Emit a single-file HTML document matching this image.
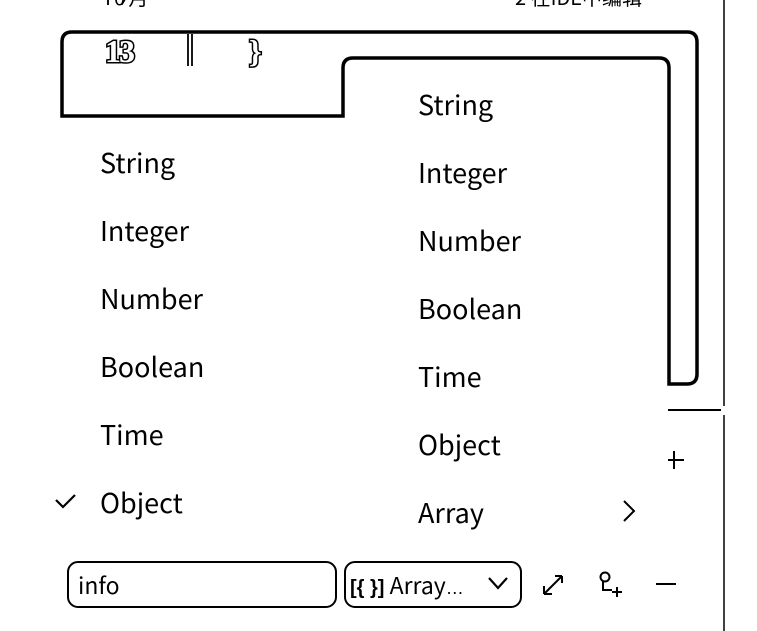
<!DOCTYPE html>
<html><head><meta charset="utf-8"><style>
html,body{margin:0;padding:0;background:#fff;}
body{width:757px;height:631px;position:relative;overflow:hidden;font-family:"Liberation Sans","Noto Sans CJK SC",sans-serif;color:#000;}
.t{position:absolute;font-family:"Noto Sans CJK SC","Liberation Sans",sans-serif;font-size:27px;line-height:1;white-space:nowrap;}
</style></head><body>
<svg width="757" height="631" style="position:absolute;left:0;top:0">
  <path d="M62,116 V42 Q62,32 72,32 H687 Q697,32 697,42 V374 Q697,384 687,384 H669 V68 Q669,58 659,58 H353 Q343,58 343,68 V116 Z" fill="none" stroke="#000" stroke-width="3.5"/>
  <line x1="668" y1="410" x2="721" y2="410" stroke="#000" stroke-width="2"/>
  <line x1="724" y1="0" x2="724" y2="406" stroke="#000" stroke-width="1.5"/>
  <line x1="724" y1="415" x2="724" y2="631" stroke="#000" stroke-width="1.5"/>
  <text x="105" y="62" font-family="Liberation Serif" font-weight="bold" font-size="32" fill="#fff" stroke="#000" stroke-width="3" paint-order="stroke" letter-spacing="-2">13</text>
  <line x1="188" y1="34" x2="188" y2="66" stroke="#000" stroke-width="1.8"/>
  <line x1="192" y1="34" x2="192" y2="66" stroke="#000" stroke-width="1.8"/>
  <text x="249" y="62" font-family="Liberation Serif" font-weight="bold" font-size="32" fill="#fff" stroke="#000" stroke-width="3" paint-order="stroke">}</text>
  <path d="M56,500 L63,507 L75,495" fill="none" stroke="#000" stroke-width="2.2"/>
  <path d="M624,501 L634,511 L624,521" fill="none" stroke="#000" stroke-width="2"/>
  <line x1="668" y1="460" x2="684" y2="460" stroke="#000" stroke-width="2"/>
  <line x1="674" y1="451" x2="674" y2="469" stroke="#000" stroke-width="2"/>
  <rect x="68" y="562" width="268" height="45" rx="10" fill="none" stroke="#000" stroke-width="2"/>
  <rect x="345" y="562" width="176" height="45" rx="10" fill="none" stroke="#000" stroke-width="2"/>
  <path d="M489,578 L498,588 L507,578" fill="none" stroke="#000" stroke-width="2.2"/>
  <path d="M544,594 L562,576 M544,594 V586 M544,594 H552 M562,576 H555 M562,576 V583" fill="none" stroke="#000" stroke-width="2"/>
  <circle cx="605" cy="577" r="4.5" fill="none" stroke="#000" stroke-width="2"/>
  <path d="M603,581 V590 H612" fill="none" stroke="#000" stroke-width="2"/>
  <path d="M612,592 H622 M617,587 V597" stroke="#000" stroke-width="2"/>
  <line x1="656" y1="584" x2="676" y2="584" stroke="#000" stroke-width="2"/>
</svg>
<div class="t" style="left:102px;top:-13px;font-size:20px">T0⁄月</div>
<div class="t" style="left:515px;top:-13px;font-size:20px">2 在IDE中编辑</div>

<div class="t" style="left:100px;top:148px">String</div>
<div class="t" style="left:100px;top:216px">Integer</div>
<div class="t" style="left:100px;top:284px">Number</div>
<div class="t" style="left:100px;top:352px">Boolean</div>
<div class="t" style="left:100px;top:420px">Time</div>
<div class="t" style="left:100px;top:488px">Object</div>

<div class="t" style="left:418px;top:90px">String</div>
<div class="t" style="left:418px;top:158px">Integer</div>
<div class="t" style="left:418px;top:226px">Number</div>
<div class="t" style="left:418px;top:294px">Boolean</div>
<div class="t" style="left:418px;top:362px">Time</div>
<div class="t" style="left:418px;top:430px">Object</div>
<div class="t" style="left:418px;top:498px">Array</div>

<div class="t" style="left:78px;top:573px;font-size:23px">info</div>
<div class="t" style="left:350px;top:573px;font-size:23px"><b style="font-family:'Liberation Sans';font-size:20px">[{ }]</b> Array<span style="font-family:'Liberation Sans';font-size:18px">…</span></div>
</body></html>
